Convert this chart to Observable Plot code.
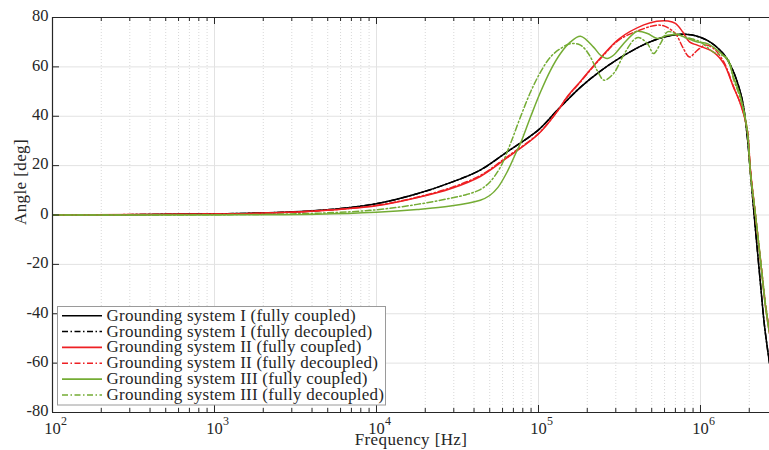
<!DOCTYPE html>
<html><head><meta charset="utf-8">
<script src="https://cdn.jsdelivr.net/npm/d3@7"></script>
<script src="https://cdn.jsdelivr.net/npm/@observablehq/plot@0.6"></script>
<style>
body{margin:0;background:#fff;}
#chart{width:769px;height:450px;}
.axlabel{letter-spacing:0.4px;}
</style></head><body><div id="chart"></div>
<script>
// ---- data ----
const seriesNames = [
  "Grounding system I (fully coupled)",
  "Grounding system I (fully decoupled)",
  "Grounding system II (fully coupled)",
  "Grounding system II (fully decoupled)",
  "Grounding system III (fully coupled)",
  "Grounding system III (fully decoupled)"
];
const seriesColors = ["#000000", "#000000", "#ee2024", "#ee2024", "#74ac34", "#74ac34"];
const seriesDashed = [false, true, false, true, false, true];

const fI = [100, 300, 1000, 1660, 4300, 10000, 17800, 28600, 43700, 64100, 100000, 130000, 182000, 241000, 316000, 447000, 589000, 759000, 871000, 1096000, 1380000, 1585000, 1758000, 1843000, 1950000, 2035000, 2185000, 2347000, 2485000, 2667000];
const vI = [0, 0.15, 0.5, 0.7, 1.8, 4.6, 8.6, 13.1, 18.2, 25.6, 34.5, 42.3, 51.8, 58.3, 63.5, 69, 72, 73.2, 73, 70.8, 65.4, 58.6, 50, 44, 31, 17, -6, -28, -45, -60];

const fIIc = [100, 1000, 1660, 4300, 10000, 17800, 28600, 43700, 64100, 100000, 130000, 150000, 182000, 241000, 316000, 447000, 537000, 631000, 700000, 776000, 855000, 955000, 1202000, 1393000, 1599000, 1766000, 1940000, 2035000, 2185000, 2347000, 2518000, 2667000];
const vIIc = [0, 0.4, 0.6, 1.6, 3.7, 7.0, 10.6, 15.6, 23.2, 32.8, 41.8, 47.8, 54.2, 63.6, 71.5, 77, 78.5, 78.6, 77.6, 74.2, 70.1, 68.8, 66, 61.3, 51.8, 45, 35, 18, 0, -18.5, -37, -48];

const fIId = [100, 1000, 1660, 4300, 10000, 17800, 28600, 43700, 64100, 100000, 130000, 150000, 182000, 241000, 316000, 447000, 537000, 600000, 700000, 776000, 855000, 955000, 1070000, 1202000, 1393000, 1599000, 1766000, 1940000, 2035000, 2185000, 2347000, 2518000, 2667000];
const vIId = [0, 0.4, 0.6, 1.7, 3.9, 7.2, 11, 16, 23.6, 33, 41.8, 47.6, 54, 63.3, 71, 75.5, 76.9, 76.5, 73.5, 68, 64, 66.7, 68.8, 67.5, 62, 52, 45, 35, 18, 0, -18, -36, -47];

const fIIIc = [100, 1000, 4300, 10000, 17800, 28600, 43700, 50000, 56200, 64100, 73000, 77400, 89300, 102900, 118600, 136700, 157600, 181600, 218600, 241500, 265500, 290400, 334800, 385600, 408300, 470800, 542800, 625500, 721000, 831700, 957900, 1104000, 1273000, 1468000, 1599000, 1766000, 1940000, 2035000, 2185000, 2347000, 2518000, 2667000];
const vIIIc = [0, 0.05, 0.3, 1.1, 2.2, 3.6, 6.0, 7.9, 11.2, 17.5, 25.5, 29, 39.7, 49.8, 58.6, 65.4, 70.1, 72.4, 68, 64.7, 63.4, 64.7, 69.4, 73.5, 74.4, 73.5, 71.5, 72.8, 73.1, 71.5, 70.1, 69.4, 66.7, 62.7, 55.9, 48, 35, 17, 0, -18.5, -37, -48];

const fIIId = [100, 1000, 4300, 10000, 17800, 28600, 36000, 43700, 50000, 58200, 67100, 77400, 89300, 102900, 118600, 136700, 157600, 181600, 205000, 230000, 254000, 290400, 334800, 385600, 414000, 470800, 512800, 566000, 625500, 701000, 796600, 867000, 1000000, 1202000, 1468000, 1599000, 1766000, 1940000, 2035000, 2185000, 2347000, 2518000, 2667000];
const vIIId = [0, 0.1, 0.7, 2.1, 4.3, 6.8, 8.3, 10.3, 13.3, 19.4, 28.9, 39.7, 49.8, 57.9, 64, 67.4, 69.4, 68.8, 65, 58.6, 54.6, 57.3, 64.7, 70.8, 71.9, 69.4, 65.4, 69.4, 74.2, 73.5, 72.1, 71.5, 70.1, 66, 63.4, 55, 47, 34, 17, 0, -18, -36, -47];

const xDomain = [100, 2667000];
const yDomain = [-80, 80];
const yTicks = [-80, -60, -40, -20, 0, 20, 40, 60, 80];
const decades = [100, 1000, 10000, 100000, 1000000];
const decadeBase = ["10", "10", "10", "10", "10"];
const decadeExp = ["2", "3", "4", "5", "6"];
const xLabel = "Frequency [Hz]";
const yLabel = "Angle [deg]";

// ---- build ----
const seriesF = [fI, fI, fIIc, fIId, fIIIc, fIIId];
const seriesV = [vI, vI, vIIc, vIId, vIIIc, vIIId];
const tables = seriesF.map((fs, s) => fs.map((f, i) => ({f, v: seriesV[s][i], s})));
const minorTicks = decades.flatMap(d => [2,3,4,5,6,7,8,9].map(k => d * k)).filter(v => v <= xDomain[1]);

const W = 769, H = 450, mL = 52, mR = 0, mT = 17, mB = 38;
const pw = W - mL - mR, ph = H - mT - mB;
const axisColor = "#262626";
const dashPattern = "6,2.5,1.5,2.5";
const serif = "'Liberation Serif', serif";

const lineMarks = tables.map((t, s) => Plot.line(t, {
  x: "f", y: "v", stroke: seriesColors[s], strokeWidth: 1.5,
  strokeDasharray: seriesDashed[s] ? dashPattern : null,
  curve: "catmull-rom", clip: true
}));

const svg = Plot.plot({
  width: W, height: H,
  marginLeft: mL, marginRight: mR, marginTop: mT, marginBottom: mB,
  style: {fontFamily: serif, fontSize: "16.5px", color: axisColor, background: "white"},
  x: {type: "log", domain: xDomain, axis: null},
  y: {domain: yDomain},
  marks: [
    Plot.ruleX(minorTicks, {stroke: "#d8d8d8", strokeDasharray: "1,2"}),
    Plot.ruleX(decades, {stroke: "#e2e2e2"}),
    Plot.ruleY(yTicks, {stroke: "#e2e2e2"}),
    ...lineMarks,
    // frame (left, top, bottom)
    Plot.ruleX([xDomain[0]], {stroke: axisColor, strokeWidth: 1.2}),
    Plot.ruleY(yDomain, {stroke: axisColor, strokeWidth: 1.2}),
    // inward ticks
    Plot.tickX(decades, {x: d => d, stroke: axisColor, insetTop: ph - 7}),
    Plot.tickX(decades, {x: d => d, stroke: axisColor, insetBottom: ph - 7}),
    Plot.tickX(minorTicks, {x: d => d, stroke: axisColor, insetTop: ph - 4}),
    Plot.tickX(minorTicks, {x: d => d, stroke: axisColor, insetBottom: ph - 4}),
    Plot.tickY(yTicks, {y: d => d, stroke: axisColor, insetRight: pw - 7}),
    // y tick labels
    Plot.axisY({ticks: yTicks, tickSize: 0, tickPadding: 4, tickFormat: d => String(d), label: null, dy: -1.5, fontSize: 16.5}),
    // x tick labels 10^n
    Plot.text(decades, {x: d => d, text: (d, i) => decadeBase[i], frameAnchor: "bottom", dy: 21, lineAnchor: "bottom", textAnchor: "middle", fontSize: 16.5, fill: axisColor}),
    Plot.text(decades, {x: d => d, text: (d, i) => decadeExp[i], frameAnchor: "bottom", dy: 12, dx: 8.5, lineAnchor: "bottom", textAnchor: "start", fontSize: 12, fill: axisColor}),
    // axis labels
    Plot.text([xLabel], {frameAnchor: "bottom", dy: 32, lineAnchor: "bottom", fontSize: 17, fill: axisColor, className: "axlabel"}),
    Plot.text([yLabel], {frameAnchor: "left", dx: -32, dy: 10, rotate: -90, fontSize: 17, fill: axisColor, className: "axlabel"})
  ]
});

// ---- legend inside the axes (lower left) ----
const g = d3.select(svg).append("g").attr("class", "legend").attr("text-anchor", "start");
const lx = 57.5, ly = 306.5, lw = 328, lh = 98.5, row0 = 315.7, rowStep = 15.85;
g.append("rect").attr("x", lx).attr("y", ly).attr("width", lw).attr("height", lh)
  .attr("fill", "white").attr("stroke", "#9a9a9a").attr("stroke-width", 1);
seriesNames.forEach((name, i) => {
  const y = row0 + i * rowStep;
  g.append("line").attr("x1", 62).attr("x2", 102).attr("y1", y).attr("y2", y)
    .attr("stroke", seriesColors[i]).attr("stroke-width", 1.6)
    .attr("stroke-dasharray", seriesDashed[i] ? dashPattern : null);
  g.append("text").attr("x", 106.5).attr("y", y + 5).text(name)
    .attr("text-anchor", "start")
    .attr("fill", axisColor).attr("font-size", "17px")
    .attr("letter-spacing", "0.25px")
    .attr("font-family", serif);
});

document.getElementById("chart").appendChild(svg);
</script>
</body></html>
